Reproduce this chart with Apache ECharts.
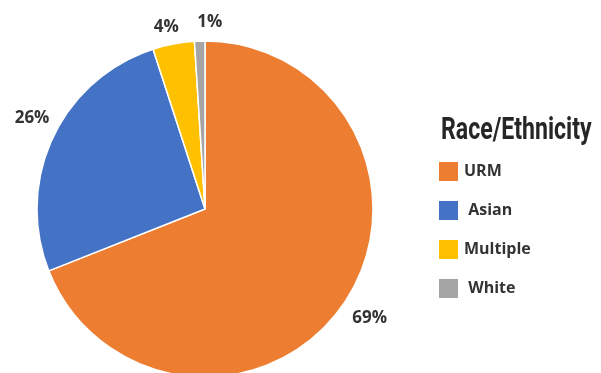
<!DOCTYPE html>
<html>
<head>
<meta charset="utf-8">
<script src="https://cdn.jsdelivr.net/npm/echarts@6/dist/echarts.min.js"></script>
<style>
html,body{margin:0;padding:0;background:#fff;}
#chart{width:601px;height:373px;}
</style>
</head>
<body>
<div id="chart"></div>
<script>
const categories = ['URM', ' Asian', 'Multiple', ' White'];
const values = [69, 26, 4, 1];
const colors = ['#ED7D31', '#4472C4', '#FFC000', '#A5A5A5'];
const legendTitle = 'Race/Ethnicity';

const labelOffsets = [[-9, 6], [15, -13], [13, -2], [28, -4]];

const chart = echarts.init(document.getElementById('chart'), null, {renderer: 'canvas'});
const FONT = "'Open Sans', 'Noto Sans', sans-serif";

chart.setOption({
  animation: false,
  backgroundColor: '#ffffff',
  color: colors,
  legend: {
    orient: 'vertical',
    left: 437,
    top: 160,
    padding: 0,
    icon: 'rect',
    itemWidth: 21,
    itemHeight: 21,
    itemGap: 16,
    textStyle: {fontFamily: FONT, fontWeight: 'bold', fontSize: 16, color: '#333333'},
    data: categories
  },
  graphic: [{
    type: 'text',
    left: 441,
    top: 116,
    scaleX: 0.745,
    style: {text: legendTitle, font: "bold 31px 'Liberation Sans Narrow', 'Roboto', sans-serif", fill: '#262626'}
  }],
  series: [{
    type: 'pie',
    center: [205, 209],
    radius: 168,
    startAngle: 90,
    clockwise: true,
    avoidLabelOverlap: false,
    itemStyle: {borderColor: '#ffffff', borderWidth: 1.5},
    label: {
      show: true,
      position: 'outside',
      formatter: '{d}%',
      fontFamily: FONT,
      fontWeight: 'bold',
      fontSize: 17,
      color: '#333333'
    },
    labelLine: {show: false, length: 15, length2: 0},
    labelLayout: function (p) {
      const o = labelOffsets[p.dataIndex];
      return {dx: o[0], dy: o[1]};
    },
    emphasis: {disabled: true},
    data: categories.map((n, i) => ({name: n, value: values[i]}))
  }]
});
</script>
</body>
</html>
